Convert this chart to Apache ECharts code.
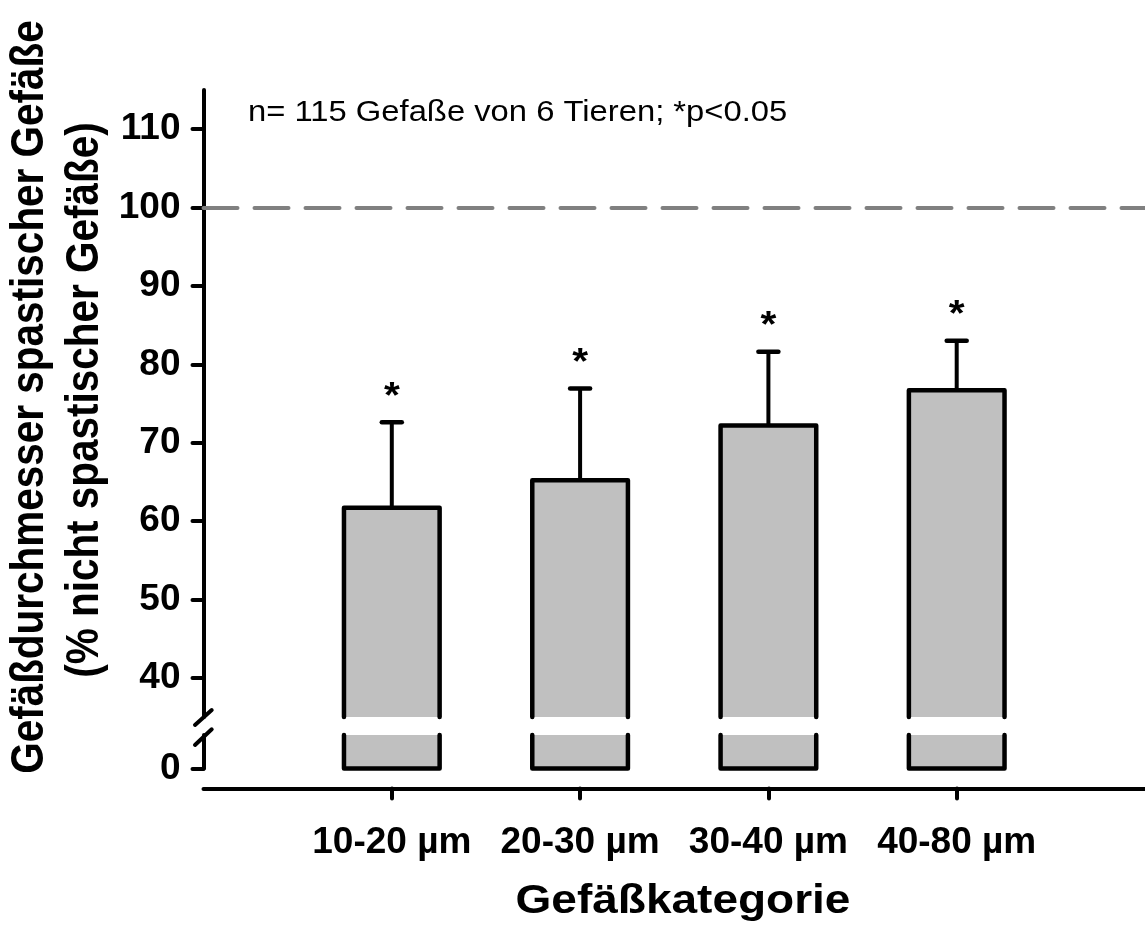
<!DOCTYPE html>
<html><head><meta charset="utf-8">
<script src="https://cdn.jsdelivr.net/npm/echarts@6/dist/echarts.min.js"></script>
<style>html,body{margin:0;padding:0;background:#fff}#c{width:1145px;height:925px}</style>
</head><body><div id="c"></div>
<script>
// ---- data ----
const categories = ['10-20 µm', '20-30 µm', '30-40 µm', '40-80 µm'];
const meanValues = [61.7, 65.2, 72.2, 76.7];
const sdValues = [10.9, 11.7, 9.4, 6.3];
const significance = ['*', '*', '*', '*'];
const upperTicks = [40, 50, 60, 70, 80, 90, 100, 110];
const lowerTicks = [0];
const referenceValue = 100;
const noteText = 'n= 115 Gefaße von 6 Tieren; *p<0.05';
const xTitle = 'Gefäßkategorie';
const yTitle1 = 'Gefäßdurchmesser spastischer Gefäße';
const yTitle2 = '(% nicht spastischer Gefäße)';

// ---- drawing ----
const FONT = '"Liberation Sans", Arial, Helvetica, sans-serif';
// axis slots: an empty slot before and after the categories
const axisSlots = [''].concat(categories, ['']);
const barData = categories.map((c, i) => [i + 1, meanValues[i], sdValues[i]]);
const BAR_FRAC = 0.508;

function renderUpper(params, api) {
  const cs = params.coordSys;
  const x = api.value(0), v = api.value(1), sd = api.value(2);
  const c = api.coord([x, v]);
  const w = api.size([1, 0])[0] * BAR_FRAC;
  const xl = c[0] - w / 2, xr = c[0] + w / 2, yt = c[1];
  const yb = cs.y + cs.height;
  const ye = api.coord([x, v + sd])[1];
  return {type: 'group', children: [
    {type: 'rect', shape: {x: xl, y: yt, width: w, height: yb - yt}, style: {fill: '#c0c0c0'}},
    {type: 'polyline', shape: {points: [[xl, yb], [xl, yt], [xr, yt], [xr, yb]]},
      style: {stroke: '#000', lineWidth: 4.5, fill: 'none', lineJoin: 'round', lineCap: 'round'}},
    {type: 'line', shape: {x1: c[0], y1: yt, x2: c[0], y2: ye}, style: {stroke: '#000', lineWidth: 4}},
    {type: 'line', shape: {x1: c[0] - 10, y1: ye, x2: c[0] + 10, y2: ye},
      style: {stroke: '#000', lineWidth: 4.5, lineCap: 'round'}},
    {type: 'text', x: c[0], y: ye - 25, scaleX: 1.1, style: {text: significance[params.dataIndex], fontSize: 37,
      fontWeight: 'bold', fontFamily: FONT, align: 'center', verticalAlign: 'middle', fill: '#000'}}
  ]};
}
function renderLower(params, api) {
  const cs = params.coordSys;
  const x = api.value(0);
  const c = api.coord([x, 0]);
  const w = api.size([1, 0])[0] * BAR_FRAC;
  const xl = c[0] - w / 2, xr = c[0] + w / 2, yb = c[1];
  const yt = cs.y;
  return {type: 'group', children: [
    {type: 'rect', shape: {x: xl, y: yt, width: w, height: yb - yt}, style: {fill: '#c0c0c0'}},
    {type: 'polyline', shape: {points: [[xl, yt], [xl, yb], [xr, yb], [xr, yt]]},
      style: {stroke: '#000', lineWidth: 4.5, fill: 'none', lineJoin: 'round', lineCap: 'round'}}
  ]};
}

const axisLineStyle = {color: '#000', width: 4};
const tickStyle = {color: '#000', width: 4, cap: 'round'};
const tickLabel = {color: '#000', fontFamily: FONT, fontWeight: 'bold', fontSize: 37};
const onlyNamed = (i, v) => v !== '';

const option = {
  animation: false,
  backgroundColor: '#fff',
  grid: [
    {left: 203.5, right: -5, top: 90, height: 627},
    {left: 203.5, right: -5, top: 735, height: 33.5}
  ],
  xAxis: [
    {gridIndex: 0, type: 'category', data: axisSlots, boundaryGap: false, show: false},
    {gridIndex: 1, type: 'category', data: axisSlots, boundaryGap: false, offset: 20,
      axisLine: {show: true, onZero: false, lineStyle: axisLineStyle},
      axisTick: {show: true, interval: onlyNamed, length: 10, lineStyle: tickStyle},
      axisLabel: {show: true, interval: onlyNamed, margin: 36, ...tickLabel},
      splitLine: {show: false}}
  ],
  yAxis: [
    {gridIndex: 0, type: 'value', min: 35, max: 115,
      axisLine: {show: true, lineStyle: axisLineStyle},
      axisTick: {show: true, customValues: upperTicks, length: 11, lineStyle: tickStyle},
      axisLabel: {show: true, customValues: upperTicks, margin: 23, ...tickLabel},
      splitLine: {show: false}},
    {gridIndex: 1, type: 'value', min: 0, max: 4,
      axisLine: {show: true, lineStyle: axisLineStyle},
      axisTick: {show: true, customValues: lowerTicks, length: 11, lineStyle: tickStyle},
      axisLabel: {show: true, customValues: lowerTicks, margin: 23, ...tickLabel},
      splitLine: {show: false}}
  ],
  graphic: [
    {type: 'text', x: 248, y: 113, scaleX: 1.13,
      style: {text: noteText, fontSize: 29, fontWeight: 'normal', fontFamily: FONT, align: 'left', verticalAlign: 'middle', fill: '#000'}},
    {type: 'text', x: 683, y: 902, scaleX: 1.15,
      style: {text: xTitle, fontSize: 40, fontWeight: 'bold', fontFamily: FONT, align: 'center', verticalAlign: 'middle', fill: '#000'}},
    {type: 'text', x: 30, y: 397, rotation: Math.PI / 2, scaleX: 0.88,
      style: {text: yTitle1, fontSize: 46, fontWeight: 'bold', fontFamily: FONT, align: 'center', verticalAlign: 'middle', fill: '#000'}},
    {type: 'text', x: 85, y: 400, rotation: Math.PI / 2, scaleX: 0.88,
      style: {text: yTitle2, fontSize: 46, fontWeight: 'bold', fontFamily: FONT, align: 'center', verticalAlign: 'middle', fill: '#000'}},
    {type: 'line', shape: {x1: 195, y1: 725, x2: 211.7, y2: 710}, style: {stroke: '#000', lineWidth: 4, lineCap: 'round'}},
    {type: 'line', shape: {x1: 195, y1: 745, x2: 211.7, y2: 729.3}, style: {stroke: '#000', lineWidth: 4, lineCap: 'round'}}
  ],
  series: [
    {type: 'custom', xAxisIndex: 0, yAxisIndex: 0, data: barData, renderItem: renderUpper, clip: false, z: 3},
    {type: 'custom', xAxisIndex: 1, yAxisIndex: 1, data: barData, renderItem: renderLower, clip: false, z: 3},
    {type: 'line', xAxisIndex: 0, yAxisIndex: 0, data: [], z: 2,
      markLine: {silent: true, symbol: 'none', label: {show: false},
        lineStyle: {color: '#808080', width: 4, type: [34, 17], cap: 'round'},
        data: [{yAxis: referenceValue}]}}
  ]
};
const chart = echarts.init(document.getElementById('c'));
chart.setOption(option);
</script>
</body></html>
